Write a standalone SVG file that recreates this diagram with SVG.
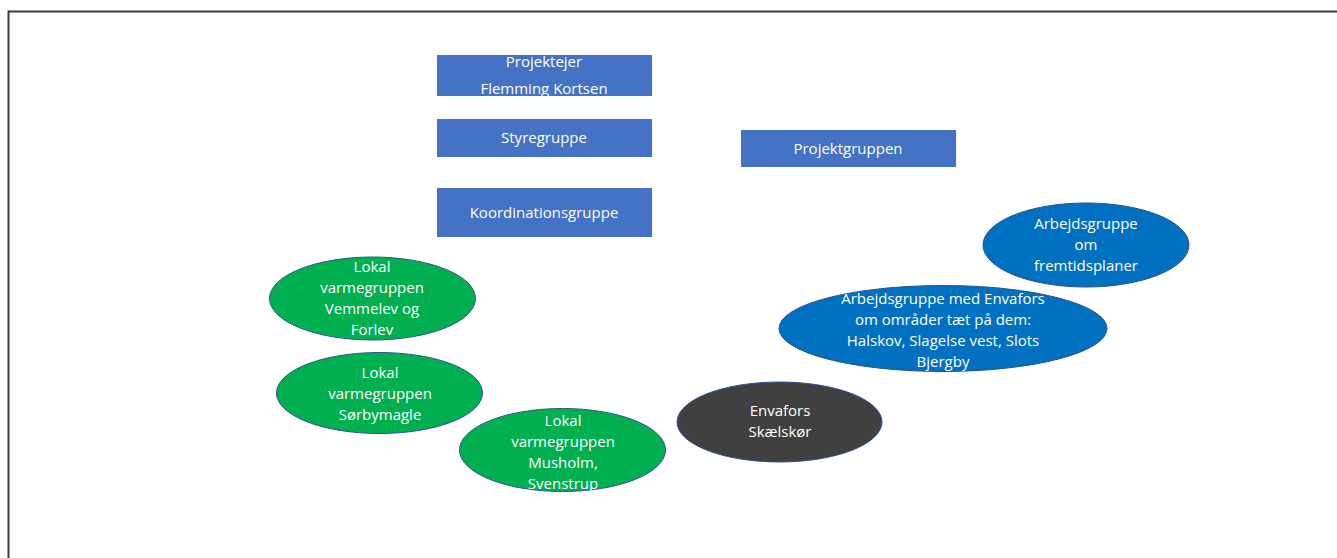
<svg xmlns="http://www.w3.org/2000/svg" width="1337" height="558" viewBox="0 0 1337 558">
<style>
.bg{fill:#ffffff}
.frame{fill:none;stroke:#3a3a3a;stroke-width:2}
.box{fill:#4472C4}
.green{fill:#00B050;stroke:#2F528F;stroke-width:1}
.blue{fill:#0070C0;stroke:#2F528F;stroke-width:1}
.dark{fill:#404040;stroke:#2F528F;stroke-width:1}
text{font-family:"Open Sans","Noto Sans",sans-serif;font-size:15px;fill:#ffffff;text-anchor:middle}
</style>
<defs><clipPath id="c1"><rect x="437" y="55" width="215" height="41"/></clipPath></defs>
<rect class="bg" x="0" y="0" width="1337" height="558"/>
<path class="frame" d="M8.5,560 V11.5 H1340"/>
<g id="connectors"></g>
<g id="projektejer">
<rect class="box" x="437" y="55" width="215" height="41"/>
<g clip-path="url(#c1)"><text x="544" y="67">Projektejer</text><text x="544" y="94">Flemming Kortsen</text></g>
</g>
<g id="styregruppe">
<rect class="box" x="437" y="119" width="215" height="38"/>
<text x="544" y="143">Styregruppe</text>
</g>
<g id="koordinationsgruppe">
<rect class="box" x="437" y="188" width="215" height="49"/>
<text x="544" y="218">Koordinationsgruppe</text>
</g>
<g id="projektgruppen">
<rect class="box" x="741" y="130" width="215" height="37"/>
<text x="848" y="154">Projektgruppen</text>
</g>
<g id="vemmelev">
<ellipse class="green" cx="372.5" cy="298.5" rx="103" ry="41.5"/>
<text x="372" y="272">Lokal</text><text x="372" y="293">varmegruppen</text><text x="372" y="314">Vemmelev og</text><text x="372" y="335">Forlev</text>
</g>
<g id="sorbymagle">
<ellipse class="green" cx="379.5" cy="393" rx="103" ry="40.5"/>
<text x="380" y="378">Lokal</text><text x="380" y="399">varmegruppen</text><text x="380" y="420">Sørbymagle</text>
</g>
<g id="musholm">
<ellipse class="green" cx="562.5" cy="450" rx="103" ry="41.5"/>
<text x="563" y="426">Lokal</text><text x="563" y="447">varmegruppen</text><text x="563" y="468">Musholm,</text><text x="563" y="489">Svenstrup</text>
</g>
<g id="envafors">
<ellipse class="dark" cx="779.5" cy="422" rx="102.5" ry="40"/>
<text x="780" y="416">Envafors</text><text x="780" y="437">Skælskør</text>
</g>
<g id="arbejdsgruppe-envafors">
<ellipse class="blue" cx="943" cy="328.5" rx="164" ry="43"/>
<text x="943" y="304">Arbejdsgruppe med Envafors</text><text x="943" y="325">om områder tæt på dem:</text><text x="943" y="346">Halskov, Slagelse vest, Slots</text><text x="943" y="367">Bjergby</text>
</g>
<g id="arbejdsgruppe-fremtid">
<ellipse class="blue" cx="1086" cy="245" rx="103" ry="42"/>
<text x="1086" y="229">Arbejdsgruppe</text><text x="1086" y="250">om</text><text x="1086" y="271">fremtidsplaner</text>
</g>
</svg>
